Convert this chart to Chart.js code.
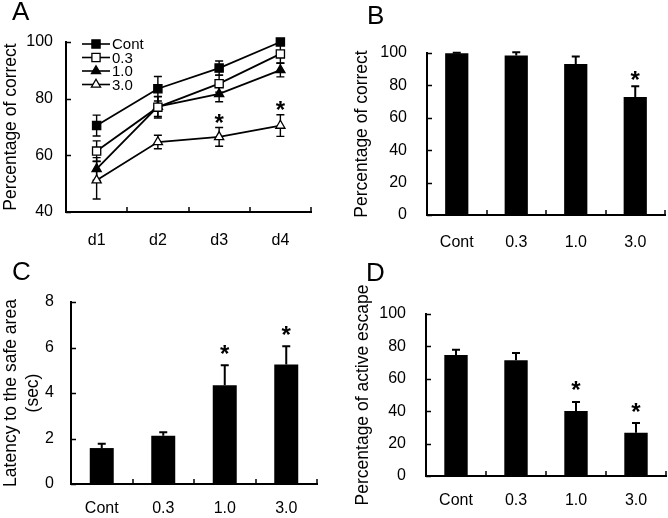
<!DOCTYPE html>
<html><head><meta charset="utf-8">
<script src="https://cdn.jsdelivr.net/npm/chart.js@4.4.1/dist/chart.umd.min.js"></script>
<style>
html,body{margin:0;padding:0;background:#fff;}
#wrap{position:relative;width:668px;height:518px;overflow:hidden;background:#fff;}
canvas{position:absolute;}
</style></head><body>
<div id="wrap">
<canvas id="cA" width="334" height="259" style="left:0;top:0"></canvas>
<canvas id="cB" width="334" height="259" style="left:334px;top:0"></canvas>
<canvas id="cC" width="334" height="259" style="left:0;top:259px"></canvas>
<canvas id="cD" width="334" height="259" style="left:334px;top:259px"></canvas>
</div>
<script>
// ---- data ----
const dayLabels = ['d1', 'd2', 'd3', 'd4'];
const doseLabels = ['Cont', '0.3', '1.0', '3.0'];
const seriesNames = ['Cont', '0.3', '1.0', '3.0'];

const aCont = [70.5, 83.5, 90.8, 100];
const aContErr = [3.7, 4.3, 2.5, 0.6];
const a03 = [61.5, 77.0, 85.3, 95.8];
const a03Err = [3.6, 3.8, 3.0, 3.2];
const a10 = [55.2, 77.2, 81.7, 90.1];
const a10Err = [4.0, 3.5, 2.8, 2.4];
const a30 = [51.2, 64.7, 66.5, 70.5];
const a30Err = [6.6, 2.4, 3.3, 3.8];
const a30Sig = [false, false, true, true];

const bValues = [99.8, 98.4, 93.2, 72.8];
const bErr = [0.4, 2.0, 4.6, 6.7];
const bSig = [false, false, false, true];

const cValues = [1.58, 2.12, 4.34, 5.25];
const cErr = [0.19, 0.15, 0.88, 0.80];
const cSig = [false, false, true, true];

const dValues = [74.7, 71.5, 40.2, 26.7];
const dErr = [3.3, 4.4, 5.5, 6.0];
const dSig = [false, false, true, true];

const yTicksA = {min: 40, max: 100, step: 20};
const yTicksB = {min: 0, max: 100, step: 20};
const yTicksC = {min: 0, max: 8, step: 2};
const yTicksD = {min: 0, max: 100, step: 20};

// ---- styles ----
const FONT = "'Liberation Sans', Arial, Helvetica, sans-serif";
const BLACK = '#000';

function drawMarker(ctx, style, r, x, y, fill) {
  ctx.save();
  ctx.fillStyle = fill; ctx.strokeStyle = BLACK; ctx.lineWidth = 1.3;
  ctx.beginPath();
  if (style === 'rect') {
    const s = r * Math.SQRT1_2;
    ctx.rect(x - s, y - s, 2 * s, 2 * s);
  } else {
    ctx.moveTo(x, y - r);
    ctx.lineTo(x + r * Math.sin(2 * Math.PI / 3), y - r * Math.cos(2 * Math.PI / 3));
    ctx.lineTo(x + r * Math.sin(4 * Math.PI / 3), y - r * Math.cos(4 * Math.PI / 3));
    ctx.closePath();
  }
  ctx.fill(); ctx.stroke();
  ctx.restore();
}

const errorBars = {
  id: 'errorBars',
  beforeDatasetsDraw(chart, args, o) { if (o && o.under) drawErr(chart, o); },
  afterDatasetsDraw(chart, args, o) { if (o && o.over) drawErr(chart, o); }
};
function drawErr(chart, o) {
  const ctx = chart.ctx, ys = chart.scales.y;
  chart.data.datasets.forEach((ds, di) => {
    if (!ds.errors) return;
    const meta = chart.getDatasetMeta(di);
    meta.data.forEach((el, i) => {
      const v = ds.data[i], e = ds.errors[i];
      const x = el.x;
      const yt = ys.getPixelForValue(v + e);
      const yb = o.both ? ys.getPixelForValue(v - e) : ys.getPixelForValue(v);
      ctx.save();
      ctx.strokeStyle = BLACK; ctx.lineWidth = o.lineWidth;
      ctx.beginPath();
      ctx.moveTo(x, yt); ctx.lineTo(x, yb);
      ctx.moveTo(x - o.cap, yt); ctx.lineTo(x + o.cap, yt);
      if (o.both) { ctx.moveTo(x - o.cap, yb); ctx.lineTo(x + o.cap, yb); }
      ctx.stroke();
      ctx.restore();
    });
  });
}

const stars = {
  id: 'stars',
  afterDatasetsDraw(chart, args, o) {
    if (!o || !o.gap) return;
    const ctx = chart.ctx, ys = chart.scales.y;
    chart.data.datasets.forEach((ds, di) => {
      if (!ds.significant) return;
      const meta = chart.getDatasetMeta(di);
      meta.data.forEach((el, i) => {
        if (!ds.significant[i]) return;
        const yt = ys.getPixelForValue(ds.data[i] + ds.errors[i]);
        const cy = yt - o.gap;
        ctx.save();
        ctx.font = 'bold ' + o.size + 'px ' + FONT;
        ctx.fillStyle = BLACK; ctx.textAlign = 'center'; ctx.textBaseline = 'alphabetic';
        const m = ctx.measureText('*');
        const asc = m.actualBoundingBoxAscent, desc = m.actualBoundingBoxDescent;
        ctx.fillText('*', el.x, cy + (asc - desc) / 2);
        ctx.restore();
      });
    });
  }
};

const innerTicks = {
  id: 'innerTicks',
  afterDraw(chart, args, o) {
    if (!o || !o.len) return;
    const ctx = chart.ctx, xs = chart.scales.x, ys = chart.scales.y;
    const ca = chart.chartArea;
    ctx.save();
    ctx.strokeStyle = BLACK; ctx.lineWidth = 1.5;
    ctx.beginPath();
    ys.ticks.forEach(t => {
      const y = Math.round(ys.getPixelForValue(t.value)) + 0.5;
      ctx.moveTo(ca.left, y); ctx.lineTo(ca.left + o.len, y);
    });
    const n = chart.data.labels.length;
    const half = (xs.getPixelForValue(1) - xs.getPixelForValue(0)) / 2;
    for (let i = 0; i < n; i++) {
      const x = Math.round(xs.getPixelForValue(i) + half);
      ctx.moveTo(x, ca.bottom); ctx.lineTo(x, ca.bottom - o.len);
    }
    ctx.stroke();
    ctx.restore();
  }
};

const panelLetter = {
  id: 'panelLetter',
  afterDraw(chart, args, o) {
    if (!o || !o.text) return;
    const ctx = chart.ctx;
    ctx.save();
    ctx.font = o.size + 'px ' + FONT;
    ctx.fillStyle = BLACK; ctx.textAlign = 'left'; ctx.textBaseline = 'alphabetic';
    ctx.fillText(o.text, o.x, o.y);
    ctx.restore();
  }
};

const insetLegend = {
  id: 'insetLegend',
  afterDraw(chart, args, o) {
    if (!o || !o.show) return;
    const ctx = chart.ctx, ca = chart.chartArea;
    chart.data.datasets.forEach((ds, i) => {
      const y = ca.top + o.dy + i * o.row;
      const x0 = ca.left + o.dx;
      ctx.save();
      ctx.strokeStyle = BLACK; ctx.lineWidth = 1.6;
      ctx.beginPath(); ctx.moveTo(x0, y); ctx.lineTo(x0 + o.lineLen, y); ctx.stroke();
      drawMarker(ctx, ds.pointStyle, ds.pointRadius, x0 + o.lineLen / 2, y, ds.pointBackgroundColor);
      ctx.font = o.size + 'px ' + FONT;
      ctx.fillStyle = BLACK; ctx.textAlign = 'left'; ctx.textBaseline = 'middle';
      ctx.fillText(ds.label, x0 + o.lineLen + 2, y + 1);
      ctx.restore();
    });
  }
};

Chart.register(errorBars, stars, innerTicks, panelLetter, insetLegend);

function axes(cfg) {
  return {
    x: {
      type: 'category', offset: true,
      grid: {display: false, drawTicks: false},
      border: {display: true, color: BLACK, width: 2},
      ticks: {color: BLACK, font: {family: FONT, size: 16}, padding: cfg.xPad, maxRotation: 0, autoSkip: false},
      afterFit: s => { s.height = cfg.xH; }
    },
    y: {
      min: cfg.yt.min, max: cfg.yt.max,
      grid: {display: false, drawTicks: false},
      border: {display: true, color: BLACK, width: 2},
      ticks: {color: BLACK, font: {family: FONT, size: 16}, padding: cfg.yPad, stepSize: cfg.yt.step},
      title: {display: true, text: cfg.title, color: BLACK,
              font: {family: FONT, size: 17.5, lineHeight: 1.25}, padding: {top: cfg.tPad, bottom: 0}},
      afterFit: s => { s.width = cfg.yW; }
    }
  };
}

const basePlugins = {legend: {display: false}, tooltip: {enabled: false}};

// Panel A
function lineDs(label, data, errs, style, fill, sig) {
  return {
    label, data, errors: errs, significant: sig,
    borderColor: BLACK, borderWidth: 1.8, backgroundColor: fill,
    pointStyle: style, pointRadius: style === 'rect' ? 5.8 : 5.3,
    pointBackgroundColor: fill, pointBorderColor: BLACK, pointBorderWidth: 1.3,
    tension: 0, clip: false
  };
}
new Chart(document.getElementById('cA'), {
  type: 'line',
  data: {
    labels: dayLabels,
    datasets: [
      lineDs(seriesNames[0], aCont, aContErr, 'rect', BLACK, null),
      lineDs(seriesNames[1], a03, a03Err, 'rect', '#fff', null),
      lineDs(seriesNames[2], a10, a10Err, 'triangle', BLACK, null),
      lineDs(seriesNames[3], a30, a30Err, 'triangle', '#fff', a30Sig)
    ]
  },
  options: {
    responsive: false, animation: false,
    layout: {padding: {left: 0, top: 42, right: 23, bottom: 0}},
    scales: axes({xPad: 19, xH: 47, yt: yTicksA, yPad: 13, yW: 66, title: 'Percentage of correct', tPad: 0}),
    plugins: Object.assign({}, basePlugins, {
      errorBars: {under: true, both: true, cap: 4, lineWidth: 1.4},
      stars: {gap: 9, size: 24},
      innerTicks: {len: 5},
      panelLetter: {text: 'A', x: 12, y: 20, size: 26},
      insetLegend: {show: true, dx: 16, dy: 2, row: 13.5, lineLen: 28, size: 15}
    })
  }
});

function barChart(id, values, errs, sig, cfg, letter) {
  new Chart(document.getElementById(id), {
    type: 'bar',
    data: {
      labels: doseLabels,
      datasets: [{data: values, errors: errs, significant: sig, backgroundColor: BLACK,
                  borderWidth: 0, barPercentage: 0.39, categoryPercentage: 1.0}]
    },
    options: {
      responsive: false, animation: false,
      layout: {padding: cfg.pad},
      scales: axes(cfg),
      plugins: Object.assign({}, basePlugins, {
        errorBars: {over: true, both: false, cap: 4, lineWidth: 2},
        stars: {gap: cfg.starGap, size: 24},
        innerTicks: {len: 5},
        panelLetter: letter
      })
    }
  });
}

barChart('cB', bValues, bErr, bSig,
  {pad: {left: 0, top: 53, right: 3, bottom: 0}, xPad: 18, xH: 44, yt: yTicksB, yPad: 20, yW: 93,
   title: 'Percentage of correct', tPad: 17.5, starGap: 11},
  {text: 'B', x: 33, y: 24, size: 26});

barChart('cC', cValues, cErr, cSig,
  {pad: {left: 0, top: 43, right: 17, bottom: 0}, xPad: 15, xH: 34, yt: yTicksC, yPad: 17, yW: 71,
   title: ['Latency to the safe area', '(sec)'], tPad: 0, starGap: 16},
  {text: 'C', x: 12, y: 21, size: 26});

barChart('cD', dValues, dErr, dSig,
  {pad: {left: 0, top: 55, right: 2, bottom: 0}, xPad: 15, xH: 42, yt: yTicksD, yPad: 20, yW: 92,
   title: 'Percentage of active escape', tPad: 18.5, starGap: 16},
  {text: 'D', x: 32, y: 22, size: 26});
</script>
</body></html>
